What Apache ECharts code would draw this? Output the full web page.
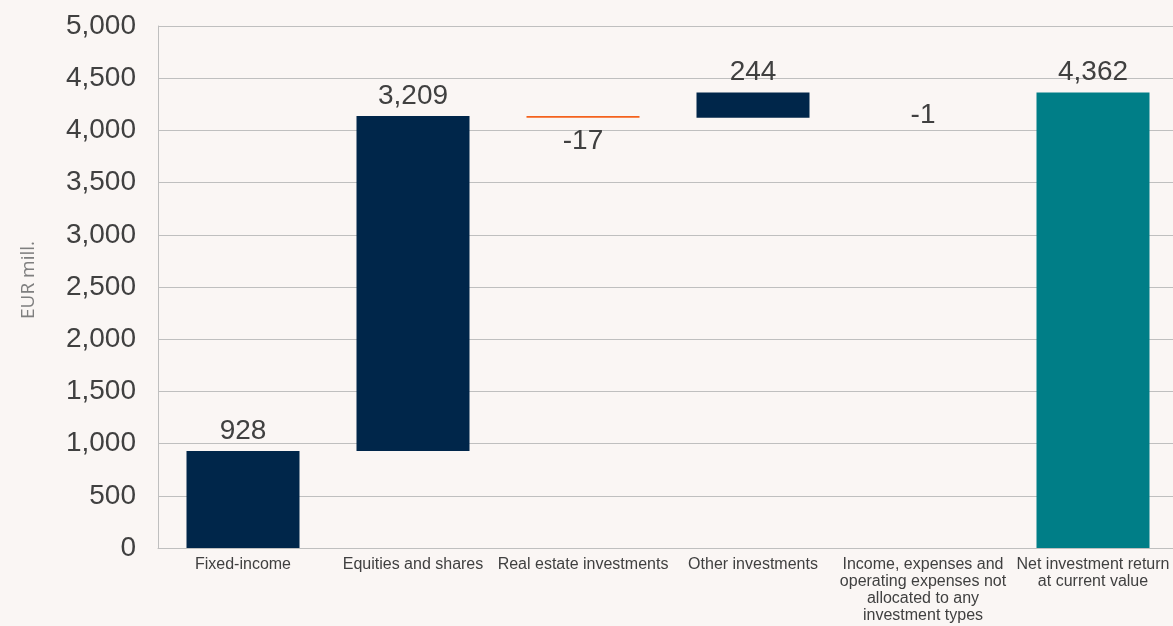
<!DOCTYPE html>
<html>
<head>
<meta charset="utf-8">
<script src="https://cdn.jsdelivr.net/npm/echarts@6/dist/echarts.min.js"></script>
<style>
  html, body { margin: 0; padding: 0; background: #FAF6F4; }
  #chart { width: 1173px; height: 626px; }
</style>
</head>
<body>
<div id="chart"></div>
<script>
// Contributions to net investment return, EUR mill.
const categories = [
  'Fixed-income',
  'Equities and shares',
  'Real estate investments',
  'Other investments',
  'Income, expenses and\noperating expenses not\nallocated to any\ninvestment types',
  'Net investment return\nat current value'
];
const changes = [928, 3209, -17, 244, -1];
const netTotal = 4362;
const yMin = 0, yMax = 5000, yStep = 500;

const NAVY = '#00264A', ORANGE = '#F4621C', TEAL = '#007E87';
const TEXT = '#404040', GRID = '#BFBFBF';

// Waterfall: an invisible base bar lifts each visible step bar
const baseData = [], stepData = [];
let running = 0;
changes.forEach(v => {
  const next = running + v;
  baseData.push(Math.min(running, next));
  stepData.push({
    value: Math.abs(v),
    signed: v,
    itemStyle: { color: v < 0 ? ORANGE : NAVY },
    label: v < 0 ? { position: 'bottom', distance: 9 } : { position: 'top', distance: 6 }
  });
  running = next;
});
baseData.push(0);
stepData.push({
  value: netTotal, signed: netTotal,
  itemStyle: { color: TEAL },
  label: { position: 'top', distance: 6 }
});

const chart = echarts.init(document.getElementById('chart'));
chart.setOption({
  backgroundColor: '#FAF6F4',
  animation: false,
  textStyle: { fontFamily: 'Liberation Sans, Arial, sans-serif' },
  grid: {
    left: 158, width: 1020, top: 26, bottom: 78,
    containLabel: false, outerBoundsMode: 'none'
  },
  xAxis: {
    type: 'category',
    data: categories,
    axisLine: { lineStyle: { color: GRID, width: 1 } },
    axisTick: { show: false },
    axisLabel: {
      interval: 0,
      margin: 8,
      color: TEXT,
      fontSize: 16,
      lineHeight: 17,
      align: 'center',
      fontFamily: 'Liberation Sans, Arial, sans-serif'
    }
  },
  yAxis: {
    type: 'value',
    min: yMin, max: yMax, interval: yStep,
    name: 'EUR mill.',
    nameLocation: 'middle',
    nameRotate: 90,
    nameGap: 120,
    nameTextStyle: {
      color: '#7F7F7F', fontSize: 19, fontFamily: 'Open Sans, sans-serif',
      padding: [0, 0, 0, 14]
    },
    axisLine: { show: true, lineStyle: { color: GRID, width: 1 } },
    axisTick: { show: false },
    splitLine: { lineStyle: { color: GRID, width: 1 } },
    axisLabel: {
      color: TEXT,
      fontSize: 28,
      margin: 22,
      formatter: v => v.toLocaleString('en-US')
    }
  },
  series: [
    {
      type: 'bar',
      stack: 'wf',
      data: baseData,
      barWidth: 113,
      itemStyle: { color: 'transparent' },
      emphasis: { disabled: true },
      silent: true
    },
    {
      type: 'bar',
      stack: 'wf',
      data: stepData,
      barWidth: 113,
      emphasis: { disabled: true },
      label: {
        show: true,
        color: TEXT,
        fontSize: 28,
        formatter: p => p.data.signed.toLocaleString('en-US')
      }
    }
  ]
});
</script>
</body>
</html>
